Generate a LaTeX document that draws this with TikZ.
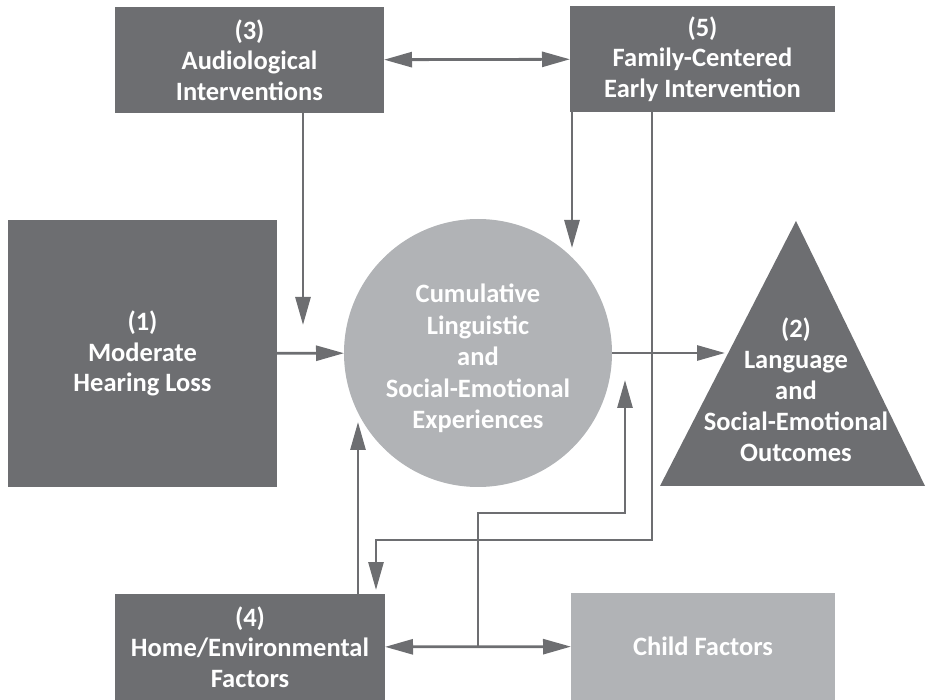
\documentclass[tikz,border=0pt]{standalone}
\usepackage{fontspec}
\setmainfont{Carlito}
\usetikzlibrary{positioning,arrows.meta}
\definecolor{boxgray}{HTML}{6D6E71}
\definecolor{softgray}{HTML}{B1B3B6}

\begin{document}
\begin{tikzpicture}[x=1pt, y=-1pt, >={Triangle[length=28pt,width=15pt]},
	every node/.style={inner sep=0, outer sep=0, font=\bfseries\fontsize{26.5}{30.5}\selectfont, text=white, align=center},
	darkbox/.style={fill=boxgray, minimum height=106},
	link/.style={draw=boxgray, line width=2.8pt}]
		
		\useasboundingbox (0,0) rectangle (927,700);
		
		%Nodes
		\node[darkbox, minimum width=269] (aud)  at (249.5,60)  {(3)\\Audiological\\Interventions};
		\node[darkbox, minimum width=265] (fam)  at (702.5,59)  {(5)\\Family-Centered\\Early Intervention};
		\node[darkbox, minimum width=269, minimum height=267] (mhl) at (142.5,353.5) {(1)\\Moderate\\Hearing Loss};
		\node[circle, fill=softgray, minimum size=268] (exp) at (478,353) {};
		\node[font=\bfseries\fontsize{26.5}{31.5}\selectfont] (expt) at (478,358.5) {Cumulative\\Linguistic\\and\\Social-Emotional\\Experiences};
		\node[darkbox, minimum width=270] (home) at (250,647)   {(4)\\Home/Environmental\\Factors};
		\node[fill=softgray, minimum width=264, minimum height=107] (child) at (703,646.5) {Child Factors};
		
		%Triangle
		\coordinate (apex) at (796,221);
		\coordinate (baseL) at (660,486);
		\coordinate (baseR) at (925,486);
		\fill[boxgray] (apex) -- (baseR) -- (baseL) -- cycle;
		\node[font=\bfseries\fontsize{26.5}{31}\selectfont] (out) at (796,390) {(2)\\Language\\and\\Social-Emotional\\Outcomes};
		
		%Ends
		\coordinate (a3) at (303,325);
		\coordinate (f5) at (572,248);
		\coordinate (tin) at (725,353);
		\coordinate (f5b) at (652,540);
		\coordinate (h4) at (376,590);
		\coordinate (e4) at (358,422);
		\coordinate (br) at (478,646);
		\coordinate (bk) at (478,513);
		\coordinate (bt) at (625,380);
		
		%Lines
		\draw[link,<->] (aud) -- (fam);
		\draw[link,->] (aud.south -| a3) -- (a3);
		\draw[link,->] (fam.south -| f5) -- (f5);
		\draw[link,->] (mhl) -- (exp);
		\draw[link,->] (exp) -- (tin);
		\draw[link,->] (fam.south -| f5b) -- (f5b) -| (h4);
		\draw[link,->] (home.north -| e4) -- (e4);
		\draw[link,<->] (home) -- (child);
		\draw[link,->] (br) -- (bk) -| (bt);
	\end{tikzpicture}
\end{document}
